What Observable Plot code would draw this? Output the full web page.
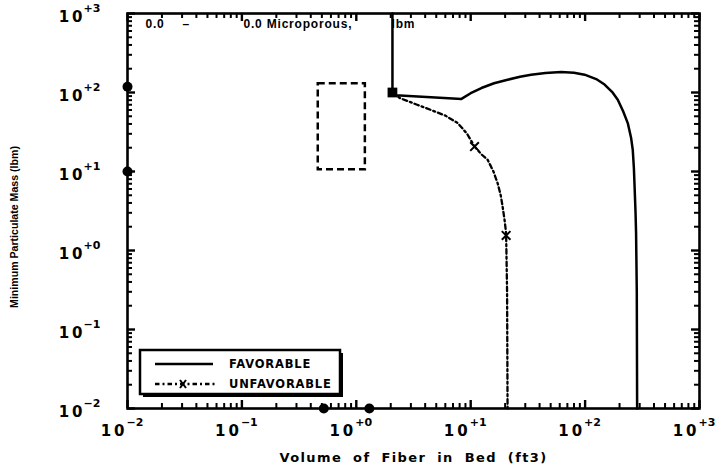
<!DOCTYPE html>
<html><head><meta charset="utf-8">
<script src="https://cdn.jsdelivr.net/npm/d3@7"></script>
<script src="https://cdn.jsdelivr.net/npm/@observablehq/plot@0.6"></script>
<style>
html,body{margin:0;padding:0;background:#fff;}
svg{display:block;}
</style></head><body><div id="chart"></div>
<script>
// ---- data ----
const favVolume = [2.07, 2.07, 2.2, 4.5, 8.3, 10, 12.4, 16, 21, 27, 33.7, 45, 61.7, 80, 99, 125, 148, 172, 193, 215, 236, 252, 261, 267, 270, 276, 279, 283, 285];
const favMass   = [1000, 100, 92, 87, 83, 98, 114, 131, 145, 158, 168, 177, 182, 178, 168, 148, 126, 102, 81, 58, 41, 27, 18.8, 11, 7.2, 3, 1.66, 0.3, 0.01];
const unfVolume = [2.07, 2.4, 3.4, 4.5, 6, 7.7, 9.3, 10.8, 12.4, 14.1, 15.8, 17.2, 18.3, 19, 19.8, 20.4, 20.8, 21];
const unfMass   = [100, 85, 70, 60, 51, 41, 30, 20.7, 16.5, 14, 10, 7.1, 5, 3.6, 2.4, 1.65, 0.3, 0.01];
const squareVolume = [2.07];
const squareMass = [100];
const crossVolume = [10.8, 20.4];
const crossMass = [20.7, 1.55];
const leftDotMass = [118, 10];
const bottomDotVolume = [0.52, 1.3];
const rangeBoxVolume = [0.465, 1.2];
const rangeBoxMass = [10.5, 129];
const decades = [0.01, 0.1, 1, 10, 100, 1000];
const tickBase = "1\u20090";
const exponents = ["\u22122", "\u22121", "+0", "+1", "+2", "+3"];
const xLabel = "Volume of Fiber in Bed (ft3)";
const yLabel = "Minimum Particulate Mass (lbm)";
const legendLabels = ["FAVORABLE", "UNFAVORABLE"];
const noteParts = ["0.0", "\u2013", "0.0 Microporous,", "lbm"];

(function () {
// ---- derived tables ----
const fav = favVolume.map((v, i) => ({v, m: favMass[i]}));
const unf = unfVolume.map((v, i) => ({v, m: unfMass[i]}));
const sq = squareVolume.map((v, i) => ({v, m: squareMass[i]}));
const cr = crossVolume.map((v, i) => ({v, m: crossMass[i]}));
const box = [{x1: rangeBoxVolume[0], x2: rangeBoxVolume[1], y1: rangeBoxMass[0], y2: rangeBoxMass[1]}];
const minor = [];
for (const d of decades.slice(0, -1)) for (let k = 2; k <= 9; k++) minor.push(d * k);

const W = 728, H = 474, mL = 127, mR = 29, mT = 13, mB = 66;
const iW = W - mL - mR, iH = H - mT - mB;
const font = "DejaVu Sans";
const dashDot = "4.5,3,2,3";

// inward ticks on all four sides: rules inset so only a short stub remains
const tickMarks = (vals, len, sw) => [
  Plot.ruleX(vals, {x: d => d, insetTop: iH - len, stroke: "black", strokeWidth: sw}),
  Plot.ruleX(vals, {x: d => d, insetBottom: iH - len, stroke: "black", strokeWidth: sw}),
  Plot.ruleY(vals, {y: d => d, insetRight: iW - len, stroke: "black", strokeWidth: sw}),
  Plot.ruleY(vals, {y: d => d, insetLeft: iW - len, stroke: "black", strokeWidth: sw})
];

const chart = Plot.plot({
  width: W, height: H,
  marginLeft: mL, marginRight: mR, marginTop: mT, marginBottom: mB,
  style: {fontFamily: font, background: "white"},
  x: {type: "log", domain: [0.01, 1000], axis: null},
  y: {type: "log", domain: [0.01, 1000], axis: null},
  marks: [
    ...tickMarks(minor, 5, 2),
    ...tickMarks(decades, 8, 2.4),
    Plot.rect(box, {x1: "x1", x2: "x2", y1: "y1", y2: "y2", fill: "none", stroke: "black", strokeWidth: 2.5, strokeDasharray: "7,4"}),
    Plot.line(unf, {x: "v", y: "m", stroke: "black", strokeWidth: 2.3, strokeDasharray: dashDot, curve: "linear"}),
    Plot.line(fav, {x: "v", y: "m", stroke: "black", strokeWidth: 2.5, curve: "linear", strokeLinejoin: "round"}),
    Plot.dot(sq, {x: "v", y: "m", symbol: "square", r: 5.5, fill: "black"}),
    Plot.dot(cr, {x: "v", y: "m", symbol: "times", r: 4, stroke: "black", strokeWidth: 2}),
    Plot.frame({stroke: "black", strokeWidth: 2.6}),
    Plot.dot(leftDotMass, {y: d => d, frameAnchor: "left", r: 5, fill: "black", clip: false}),
    Plot.dot(bottomDotVolume, {x: d => d, frameAnchor: "bottom", r: 5, fill: "black", clip: false}),
    // x tick labels
    Plot.text(decades, {x: d => d, frameAnchor: "bottom", text: () => tickBase, textAnchor: "end", lineAnchor: "middle", dx: -3, dy: 23, fontSize: 15, fontWeight: "bold"}),
    Plot.text(decades, {x: d => d, frameAnchor: "bottom", text: (d, i) => exponents[i], textAnchor: "start", lineAnchor: "middle", dx: -1, dy: 14, fontSize: 11, fontWeight: "bold"}),
    // y tick labels
    Plot.text(decades, {y: d => d, frameAnchor: "left", text: () => tickBase, textAnchor: "end", lineAnchor: "middle", dx: -45, dy: 4, fontSize: 15, fontWeight: "bold"}),
    Plot.text(decades, {y: d => d, frameAnchor: "left", text: (d, i) => exponents[i], textAnchor: "start", lineAnchor: "middle", dx: -44, dy: -5, fontSize: 11, fontWeight: "bold"}),
    // axis titles
    Plot.text([xLabel], {frameAnchor: "bottom", text: d => d, textAnchor: "middle", lineAnchor: "middle", dy: 49, fontSize: 13, fontWeight: "bold"}),
    Plot.text([yLabel], {frameAnchor: "left", text: d => d, textAnchor: "middle", lineAnchor: "middle", rotate: -90, dx: -113, dy: 16, fontSize: 10.6, fontWeight: "bold", fontFamily: "Liberation Sans"}),
    // top note
    Plot.text([noteParts[0]], {frameAnchor: "top-left", text: d => d, textAnchor: "start", lineAnchor: "middle", dx: 18, dy: 11, fontSize: 12, fontWeight: "bold", fontFamily: "Liberation Sans"}),
    Plot.text([noteParts[1]], {frameAnchor: "top-left", text: d => d, textAnchor: "start", lineAnchor: "middle", dx: 55, dy: 11, fontSize: 12, fontWeight: "bold", fontFamily: "Liberation Sans"}),
    Plot.text([noteParts[2]], {frameAnchor: "top-left", text: d => d, textAnchor: "start", lineAnchor: "middle", dx: 116, dy: 11, fontSize: 12, fontWeight: "bold", fontFamily: "Liberation Sans"}),
    Plot.text([noteParts[3]], {frameAnchor: "top-left", text: d => d, textAnchor: "start", lineAnchor: "middle", dx: 264, dy: 11, fontSize: 12, fontWeight: "bold", fontFamily: "Liberation Sans"})
  ]
});

const svg = d3.select(chart);
// wider lettering of the original
svg.selectAll("text").each(function () {
  const t = this.textContent;
  if (t === xLabel) d3.select(this).style("letter-spacing", "1.4px").style("word-spacing", "5px");
  else if (t === noteParts[0] || t === noteParts[2] || t === noteParts[3]) d3.select(this).style("letter-spacing", "0.8px");
});

// ---- legend box (inside plot area, lower left) ----
const lg = svg.append("g").attr("font-family", font);
const bx = 140, by = 350, bw = 200, bh = 44;
lg.append("rect").attr("x", bx + 3).attr("y", by + 3).attr("width", bw).attr("height", bh).attr("fill", "black");
lg.append("rect").attr("x", bx).attr("y", by).attr("width", bw).attr("height", bh).attr("fill", "white").attr("stroke", "black").attr("stroke-width", 2.5);
lg.append("line").attr("x1", 155).attr("x2", 213).attr("y1", 364).attr("y2", 364).attr("stroke", "black").attr("stroke-width", 2.5);
lg.append("line").attr("x1", 155).attr("x2", 216).attr("y1", 384).attr("y2", 384).attr("stroke", "black").attr("stroke-width", 2.3).attr("stroke-dasharray", dashDot);
lg.append("path").attr("d", "M180,380L186,388M186,380L180,388").attr("stroke", "black").attr("stroke-width", 2).attr("fill", "none");
legendLabels.forEach((t, i) => {
  lg.append("text").attr("x", 229).attr("y", 364 + i * 20).attr("dy", "0.38em")
    .attr("text-anchor", "start").attr("font-size", 11.5).attr("font-weight", "bold")
    .style("letter-spacing", "0.8px").text(t);
});

document.getElementById("chart").append(chart);
})();
</script></body></html>
